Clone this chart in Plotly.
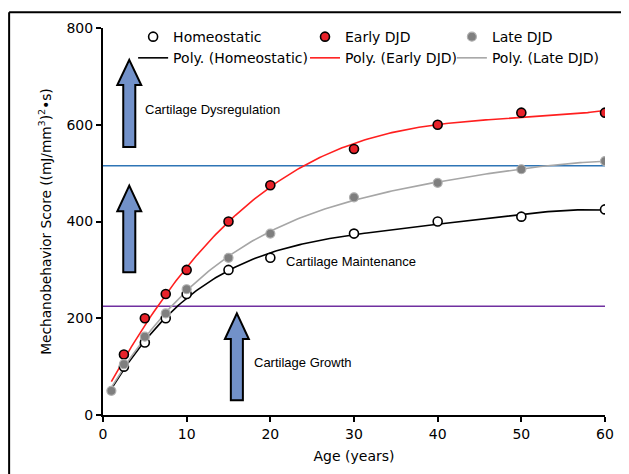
import numpy as np
import plotly.graph_objects as go

# ---- data ----
baseline_age = [1]
baseline_score = [50]

homeo_age = [2.5, 5, 7.5, 10, 15, 20, 30, 40, 50, 60]
homeo_score = [100, 150, 200, 250, 300, 325, 375, 400, 410, 425]

early_age = [2.5, 5, 7.5, 10, 15, 20, 30, 40, 50, 60]
early_score = [125, 200, 250, 300, 400, 475, 550, 600, 625, 625]

late_age = [1, 2.5, 5, 7.5, 10, 15, 20, 30, 40, 50, 60]
late_score = [50, 105, 162, 210, 260, 325, 375, 450, 480, 508, 525]

dysregulation_threshold = 515
growth_threshold = 225

x_ticks = [0, 10, 20, 30, 40, 50, 60]
y_ticks = [0, 200, 400, 600, 800]

FONT = "DejaVu Sans"
TXT = "Liberation Sans"


def poly_fit(ax, ay, deg):
    if ax[0] != baseline_age[0]:
        x = np.array(baseline_age + list(ax), dtype=float)
        y = np.array(baseline_score + list(ay), dtype=float)
    else:
        x = np.array(ax, dtype=float)
        y = np.array(ay, dtype=float)
    c = np.polyfit(x, y, deg)
    xs = np.linspace(1, 60, 200)
    return xs, np.polyval(c, xs)


fig = go.Figure()

# threshold lines
fig.add_trace(go.Scatter(x=[0, 60], y=[dysregulation_threshold] * 2, mode="lines",
                         line=dict(color="#2e75b6", width=1.5), showlegend=False, hoverinfo="skip"))
fig.add_trace(go.Scatter(x=[0, 60], y=[growth_threshold] * 2, mode="lines",
                         line=dict(color="#7030a0", width=1.5), showlegend=False, hoverinfo="skip"))

# trend lines
for ax, ay, col, name, lg, order in [
    (homeo_age, homeo_score, "black", "Poly. (Homeostatic)", "legend", 4),
    (early_age, early_score, "#ff1f1f", "Poly. (Early DJD)", "legend2", 3),
    (late_age, late_score, "#a6a6a6", "Poly. (Late DJD)", "legend3", 4),
]:
    xs, ys = poly_fit(ax, ay, order)
    fig.add_trace(go.Scatter(x=xs, y=ys, mode="lines", name=name, legend=lg, legendrank=2,
                             line=dict(color=col, width=1.6)))

# markers
fig.add_trace(go.Scatter(x=homeo_age, y=homeo_score, mode="markers", name="Homeostatic",
                         legend="legend", legendrank=1,
                         marker=dict(size=9, color="white", line=dict(color="black", width=1.6))))
fig.add_trace(go.Scatter(x=early_age, y=early_score, mode="markers", name="Early DJD",
                         legend="legend2", legendrank=1,
                         marker=dict(size=9, color="#e8222a", line=dict(color="black", width=1.6))))
fig.add_trace(go.Scatter(x=late_age, y=late_score, mode="markers", name="Late DJD",
                         legend="legend3", legendrank=1,
                         marker=dict(size=9, color="#7f7f7f", line=dict(color="#b0b0b0", width=1.2))))


def arrow_path(cx, tip, head_base, base, hw=1.43, sw=0.72):
    return (f"M {cx} {tip} L {cx + hw} {head_base} L {cx + sw} {head_base} L {cx + sw} {base} "
            f"L {cx - sw} {base} L {cx - sw} {head_base} L {cx - hw} {head_base} Z")


shapes = []
for cx, tip, hb, base in [(3.14, 734, 682, 554), (3.14, 474, 421, 295), (16.0, 210, 157, 30.5)]:
    shapes.append(dict(type="path", path=arrow_path(cx, tip, hb, base), xref="x", yref="y",
                       fillcolor="#7291c9", line=dict(color="black", width=2), layer="above"))
# outer frame (top and left)
shapes.append(dict(type="line", xref="paper", yref="paper", x0=-0.187, x1=1.1, y0=1.0405, y1=1.0405,
                   line=dict(color="black", width=2)))
shapes.append(dict(type="line", xref="paper", yref="paper", x0=-0.187, x1=-0.187, y0=1.0405, y1=-0.16,
                   line=dict(color="black", width=2)))

annotations = [
    dict(x=4.78, y=632, text="Cartilage Dysregulation", showarrow=False, xanchor="left", yanchor="middle",
         font=dict(family=TXT, size=13, color="black")),
    dict(x=21.63, y=317, text="Cartilage Maintenance", showarrow=False, xanchor="left", yanchor="middle",
         font=dict(family=TXT, size=13, color="black")),
    dict(x=17.8, y=108, text="Cartilage Growth", showarrow=False, xanchor="left", yanchor="middle",
         font=dict(family=TXT, size=13, color="black")),
]

leg_common = dict(orientation="v", y=1.018, xanchor="left", yanchor="top", bgcolor="rgba(0,0,0,0)",
                  font=dict(family=FONT, size=14, color="black"), itemwidth=30, tracegroupgap=0)

fig.update_layout(
    width=621, height=466,
    margin=dict(l=95, r=24, t=17, b=56),
    paper_bgcolor="white", plot_bgcolor="white",
    font=dict(family=FONT, size=14, color="black"),
    shapes=shapes, annotations=annotations,
    legend=dict(x=0.06, **leg_common),
    legend2=dict(x=0.4024, **leg_common),
    legend3=dict(x=0.695, **leg_common),
    xaxis=dict(range=[0, 60], tickvals=x_ticks, showgrid=False, zeroline=False,
               showline=True, linecolor="black", linewidth=2, ticks="outside", ticklen=5, tickwidth=2,
               tickcolor="black", tickfont=dict(family=FONT, size=14),
               title=dict(text="Age (years)", font=dict(family=FONT, size=14), standoff=10)),
    yaxis=dict(range=[0, 800], tickvals=y_ticks, showgrid=False, zeroline=False,
               showline=True, linecolor="black", linewidth=2, ticks="outside", ticklen=5, tickwidth=2,
               tickcolor="black", tickfont=dict(family=FONT, size=14),
               title=dict(text="Mechanobehavior Score ((mJ/mm<sup>3</sup>)<sup>2</sup>\u2022s)",
                          font=dict(family=FONT, size=13.7), standoff=12)),
)

fig.write_html("out.html")
